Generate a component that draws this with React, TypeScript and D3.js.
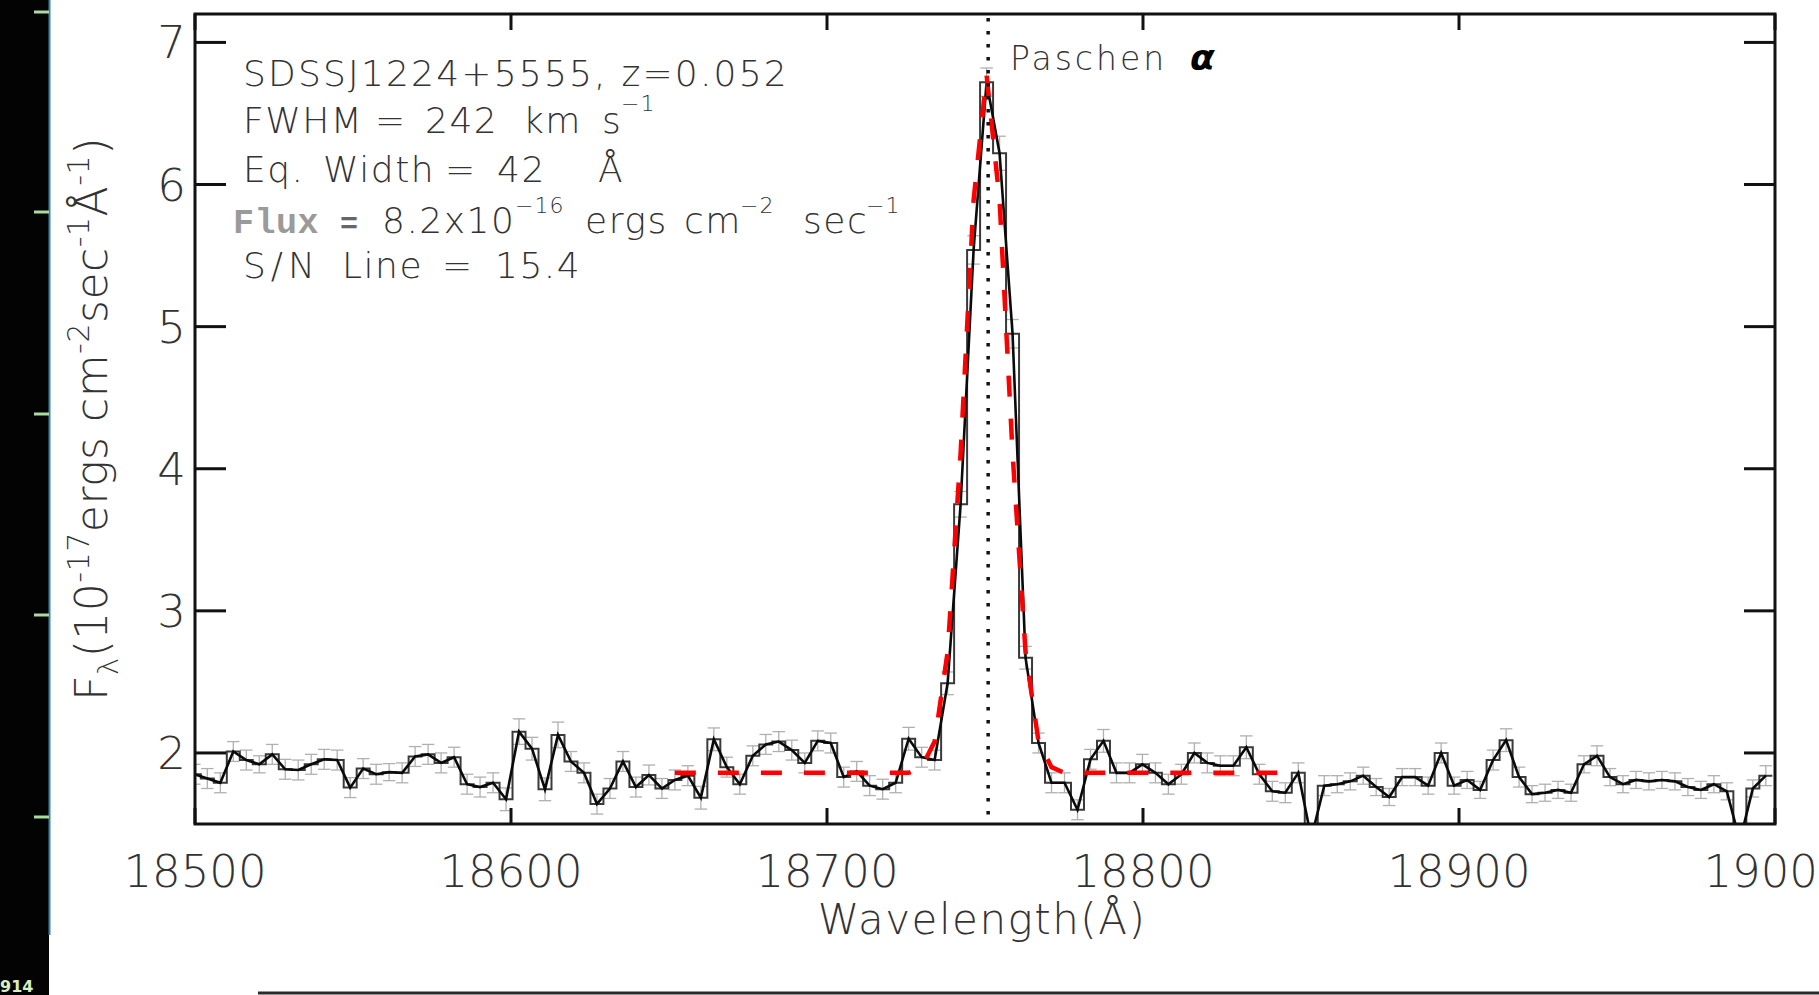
import React, { useEffect } from 'react';
import * as d3 from 'd3';

// ---------- data ----------
const LAMBDA_START = 18499.79; // centre of first pixel (Å)
const LAMBDA_STEP = 4.11; // Å per pixel

const flux = [
  1.85, 1.82, 1.79, 2.01, 1.95, 1.92, 1.99, 1.885, 1.88, 1.92,
  1.955, 1.95, 1.756, 1.89, 1.85, 1.865, 1.86, 1.975, 1.99, 1.93,
  1.97, 1.78, 1.76, 1.79, 1.674, 2.15, 2.03, 1.744, 2.127, 1.94,
  1.86, 1.64, 1.75, 1.94, 1.76, 1.845, 1.75, 1.81, 1.84, 1.685,
  2.096, 1.9, 1.78, 1.98, 2.06, 2.08, 2.02, 1.93, 2.085, 2.07,
  1.83, 1.87, 1.77, 1.745, 1.79, 2.1, 1.97, 1.95, 2.49, 3.75,
  5.54, 6.72, 6.22, 4.95, 2.67, 2.07, 1.79, 1.79, 1.6, 1.955,
  2.085, 1.86, 1.86, 1.92, 1.86, 1.78, 1.85, 2.0, 1.93, 1.91,
  1.91, 2.04, 1.85, 1.73, 1.72, 1.86, 1.4, 1.77, 1.78, 1.8,
  1.84, 1.76, 1.69, 1.83, 1.83, 1.77, 2.0, 1.77, 1.81, 1.74,
  1.95, 2.09, 1.83, 1.71, 1.72, 1.74, 1.72, 1.92, 1.98, 1.83,
  1.78, 1.81, 1.8, 1.81, 1.8, 1.76, 1.74, 1.78, 1.73, 1.38,
  1.75, 1.84,
];

const fluxErr = [
  0.07, 0.07, 0.07, 0.07, 0.07, 0.06, 0.07, 0.07, 0.07, 0.07,
  0.07, 0.07, 0.07, 0.07, 0.07, 0.06, 0.07, 0.07, 0.07, 0.07,
  0.07, 0.07, 0.07, 0.07, 0.08, 0.09, 0.08, 0.08, 0.09, 0.07,
  0.07, 0.07, 0.07, 0.07, 0.07, 0.07, 0.07, 0.07, 0.07, 0.08,
  0.08, 0.07, 0.07, 0.07, 0.07, 0.07, 0.07, 0.07, 0.07, 0.07,
  0.07, 0.07, 0.07, 0.07, 0.07, 0.08, 0.07, 0.07, 0.08, 0.09,
  0.1, 0.1, 0.12, 0.1, 0.08, 0.07, 0.07, 0.07, 0.07, 0.07,
  0.08, 0.07, 0.07, 0.07, 0.07, 0.07, 0.07, 0.07, 0.07, 0.07,
  0.07, 0.08, 0.07, 0.07, 0.07, 0.07, 0.07, 0.07, 0.06, 0.06,
  0.06, 0.06, 0.06, 0.06, 0.06, 0.06, 0.07, 0.06, 0.06, 0.06,
  0.07, 0.08, 0.07, 0.06, 0.06, 0.06, 0.06, 0.06, 0.07, 0.06,
  0.06, 0.06, 0.06, 0.06, 0.06, 0.06, 0.06, 0.06, 0.06, 0.07,
  0.06, 0.07,
];

// Gaussian + continuum fit, sampled on pixels FIT_START_INDEX ..
const FIT_START_INDEX = 37;
const fitFlux = [
  1.86, 1.86, 1.86, 1.86, 1.86, 1.86, 1.86, 1.86, 1.86, 1.86,
  1.86, 1.86, 1.86, 1.86, 1.86, 1.86, 1.86, 1.86,
  1.86, 1.9, 2.08, 2.71, 4.11, 5.89, 6.77, 5.89, 4.11, 2.71, 2.08, 1.9, 1.86,
  1.86, 1.86, 1.86, 1.86, 1.86, 1.86, 1.86, 1.86, 1.86, 1.86,
  1.86, 1.86, 1.86, 1.86, 1.86, 1.86, 1.86, 1.86,
];

const LINE_CENTER = 18751; // Paschen alpha rest wavelength
const xTicks = [18500, 18600, 18700, 18800, 18900, 19000];
const yTicks = [2, 3, 4, 5, 6, 7];
const X_DOMAIN = [18500, 19000];
const Y_DOMAIN = [1.5, 7.2];
const stripTicks = [12, 212, 414, 615, 817];

// ---------- layout ----------
const W = 1819;
const H = 995;
const L = 195, R = 1775, T = 14, B = 824;
const FONT = "'DejaVu Sans', 'Liberation Sans', sans-serif";
const MONO = "'Liberation Mono', 'DejaVu Sans Mono', monospace";
const TXT = '#333';

export default function App() {
  useEffect(() => {
    document.body.style.margin = '0';
  }, []);

  const x = d3.scaleLinear().domain(X_DOMAIN).range([L, R]);
  const y = d3.scaleLinear().domain(Y_DOMAIN).range([B, T]);

  const lambdas = flux.map((_, i) => LAMBDA_START + i * LAMBDA_STEP);
  const pts: [number, number][] = flux.map((v, i) => [lambdas[i], v]);
  const stepPts: [number, number][] = [];
  flux.forEach((v, i) => {
    stepPts.push([lambdas[i] - LAMBDA_STEP / 2, v], [lambdas[i] + LAMBDA_STEP / 2, v]);
  });
  const fitPts: [number, number][] = fitFlux.map((v, k) => [lambdas[FIT_START_INDEX + k], v]);

  const line = d3
    .line<[number, number]>()
    .x((d) => x(d[0]))
    .y((d) => y(d[1]));

  const capHalf = (x(LAMBDA_STEP) - x(0)) * 0.48;

  return (
    <svg
      width={W}
      height={H}
      viewBox={`0 0 ${W} ${H}`}
      style={{ position: 'absolute', left: 0, top: 0, background: '#fff' }}
    >
      <defs>
        <clipPath id="plot">
          <rect x={L} y={T} width={R - L} height={B - T} />
        </clipPath>
      </defs>
      <rect x={0} y={0} width={W} height={H} fill="#fff" />

      {/* left dark strip */}
      <rect x={0} y={0} width={49} height={H} fill="#040304" />
      <line x1={49.5} x2={49.5} y1={0} y2={935} stroke="#3f7fae" strokeWidth={2} />
      {stripTicks.map((t) => (
        <line key={t} x1={34} x2={49} y1={t} y2={t} stroke="#a9dca0" strokeWidth={3} />
      ))}
      <text x={0} y={992} fontFamily={FONT} fontWeight="bold" fontSize={16} fill="#d8efc0">
        914
      </text>
      <line x1={258} x2={W} y1={993} y2={993} stroke="#2a2a2a" strokeWidth={3} />

      {/* data */}
      <g clipPath="url(#plot)">
        {pts.map((d, i) => {
          const cx = x(d[0]);
          const y1 = y(d[1] - fluxErr[i]);
          const y2 = y(d[1] + fluxErr[i]);
          return (
            <g key={i} stroke="#b0b0b0" strokeWidth={1.3}>
              <line x1={cx} x2={cx} y1={y1} y2={y2} />
              <line x1={cx - capHalf} x2={cx + capHalf} y1={y1} y2={y1} />
              <line x1={cx - capHalf} x2={cx + capHalf} y1={y2} y2={y2} />
            </g>
          );
        })}
        <path d={line(stepPts) ?? ''} fill="none" stroke="#3a3a3a" strokeWidth={2} />
        <path d={line(pts) ?? ''} fill="none" stroke="#0a0a0a" strokeWidth={2.6} />
        <path
          d={line(fitPts) ?? ''}
          fill="none"
          stroke="#ff0000"
          strokeWidth={4.5}
          strokeDasharray="21 22"
        />
        <line
          x1={x(LINE_CENTER)}
          x2={x(LINE_CENTER)}
          y1={T + 4}
          y2={B}
          stroke="#111"
          strokeWidth={3.5}
          strokeDasharray="3.5 9.5"
        />
      </g>

      {/* axes box */}
      <rect x={L} y={T} width={R - L} height={B - T} fill="none" stroke="#111" strokeWidth={3} />
      {xTicks.map((t) => (
        <g key={t} stroke="#111" strokeWidth={3}>
          <line x1={x(t)} x2={x(t)} y1={B} y2={B - 16} />
          <line x1={x(t)} x2={x(t)} y1={T} y2={T + 16} />
        </g>
      ))}
      {yTicks.map((t) => (
        <g key={t} stroke="#111" strokeWidth={3}>
          <line x1={L} x2={L + 31} y1={y(t)} y2={y(t)} />
          <line x1={R} x2={R - 31} y1={y(t)} y2={y(t)} />
        </g>
      ))}

      {/* tick labels */}
      {xTicks.map((t) => (
        <text
          key={t}
          x={x(t)}
          y={887}
          textAnchor="middle"
          fontFamily={FONT}
          fontWeight={200}
          fontSize={45}
          fill={TXT}
        >
          {t}
        </text>
      ))}
      {yTicks.map((t) => (
        <text
          key={t}
          x={186}
          y={y(t) + 16}
          textAnchor="end"
          fontFamily={FONT}
          fontWeight={200}
          fontSize={45}
          fill={TXT}
        >
          {t}
        </text>
      ))}

      {/* axis titles */}
      <text
        x={(L + R) / 2 - 3}
        y={934}
        textAnchor="middle"
        fontFamily={FONT}
        fontWeight={200}
        fontSize={42}
        letterSpacing={1.5}
        fill={TXT}
      >
        Wavelength(Å)
      </text>
      <text
        transform={`translate(107, ${(T + B) / 2}) rotate(-90)`}
        textAnchor="middle"
        fontFamily={FONT}
        fontWeight={200}
        fontSize={44}
        letterSpacing={0.5}
        fill={TXT}
      >
        <tspan>F</tspan>
        <tspan fontSize={29} dy={11}>λ</tspan>
        <tspan dy={-11}>(10</tspan>
        <tspan fontSize={30} dy={-18}>-17</tspan>
        <tspan dy={18}>ergs cm</tspan>
        <tspan fontSize={30} dy={-18}>-2</tspan>
        <tspan dy={18}>sec</tspan>
        <tspan fontSize={30} dy={-18}>-1</tspan>
        <tspan dy={18}>Å</tspan>
        <tspan fontSize={30} dy={-18}>-1</tspan>
        <tspan dy={18}>)</tspan>
      </text>

      {/* annotations */}
      <g fontFamily={FONT} fontWeight={200} fontSize={36} fill={TXT} letterSpacing={1.5}>
        <text x={243} y={86} letterSpacing={2.2}>
          SDSSJ1224+5555, z=0.052
        </text>
        <text y={133}>
          <tspan x={243}>FWHM</tspan>
          <tspan x={375}>=</tspan>
          <tspan x={425}>242</tspan>
          <tspan x={523}>km</tspan>
          <tspan x={602}>s</tspan>
          <tspan x={621} dy={-22} fontSize={22} letterSpacing={1}>−1</tspan>
        </text>
        <text y={182}>
          <tspan x={243}>Eq.</tspan>
          <tspan x={323}>Width</tspan>
          <tspan x={445}>=</tspan>
          <tspan x={497}>42</tspan>
          <tspan x={598}>Å</tspan>
        </text>
        <text y={233}>
          <tspan x={233} fontFamily={MONO} fontWeight="bold" fontSize={35} fill="#9a9a9a" letterSpacing={0.5}>
            Flux
          </tspan>
          <tspan x={340} fontFamily={MONO} fontWeight="bold" fontSize={30} fill="#666" letterSpacing={0}>
            =
          </tspan>
          <tspan x={382}>8.2x10</tspan>
          <tspan x={515} dy={-20} fontSize={22} letterSpacing={1}>−16</tspan>
          <tspan x={585} dy={20}>ergs</tspan>
          <tspan x={684}>cm</tspan>
          <tspan x={740} dy={-20} fontSize={22} letterSpacing={1}>−2</tspan>
          <tspan x={803} dy={20}>sec</tspan>
          <tspan x={866} dy={-20} fontSize={22} letterSpacing={1}>−1</tspan>
        </text>
        <text y={278}>
          <tspan x={243} letterSpacing={5}>S/N</tspan>
          <tspan x={342}>Line</tspan>
          <tspan x={442}>=</tspan>
          <tspan x={495}>15.4</tspan>
        </text>
      </g>

      <text y={70} fontFamily={FONT} fontWeight={200} fontSize={33} fill={TXT} letterSpacing={3}>
        <tspan x={1010}>Paschen</tspan>
        <tspan x={1190} fontSize={36} fontWeight="bold" fontStyle="italic" fill="#000" letterSpacing={0}>α</tspan>
      </text>
    </svg>
  );
}
